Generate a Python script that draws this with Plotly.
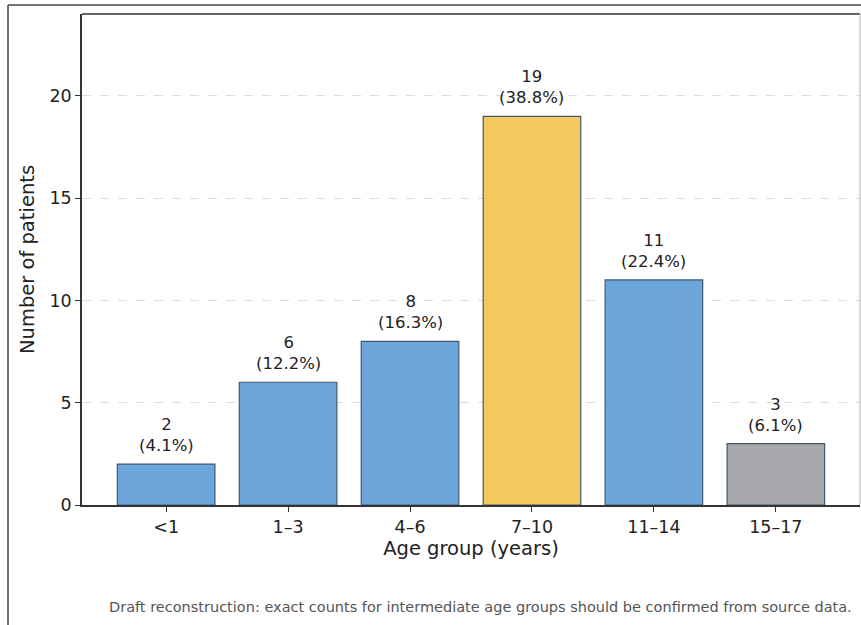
import plotly.graph_objects as go

categories = ["<1", "1–3", "4–6", "7–10", "11–14", "15–17"]
counts = [2, 6, 8, 19, 11, 3]
percents = [4.1, 12.2, 16.3, 38.8, 22.4, 6.1]
bar_colors = ["#6ca6db", "#6ca6db", "#6ca6db", "#f5c75f", "#6ca6db", "#a8a9ac"]
yticks = [0, 5, 10, 15, 20]
footnote = "Draft reconstruction: exact counts for intermediate age groups should be confirmed from source data."

FONT = "DejaVu Sans"
x_idx = list(range(len(categories)))

fig = go.Figure()
fig.add_trace(go.Bar(
    x=x_idx, y=counts, width=0.8,
    marker=dict(color=bar_colors, line=dict(color="#3f5870", width=1.2)),
    showlegend=False,
))

for i, (c, p) in enumerate(zip(counts, percents)):
    fig.add_annotation(x=i, y=c, xref="x", yref="y", text=f"{c}<br>({p}%)",
                       showarrow=False, yanchor="bottom", yshift=7,
                       font=dict(family=FONT, size=16.5, color="#222"))

fig.add_annotation(x=1.0, y=-0.208, xref="paper", yref="paper", text=footnote,
                   showarrow=False, xanchor="right", yanchor="middle", xshift=-6,
                   font=dict(family=FONT, size=14.5, color="#555"))

# spines and outer frame
dark = "#333333"
fig.add_shape(type="line", xref="paper", yref="paper", x0=0, x1=1, y0=1, y1=1, line=dict(color=dark, width=1.5))
fig.add_shape(type="line", xref="paper", yref="paper", x0=1, x1=1, y0=0, y1=1, line=dict(color="#bbbbbb", width=1.2))
fig.add_shape(type="line", xref="paper", yref="paper", x0=-0.0951, x1=1.01, y0=1.0183, y1=1.0183, line=dict(color="#444", width=1.5))
fig.add_shape(type="line", xref="paper", yref="paper", x0=-0.0951, x1=-0.0951, y0=-0.25, y1=1.0183, line=dict(color="#444", width=1.5))

fig.update_layout(
    width=861, height=625,
    margin=dict(l=82, r=1, t=14, b=120),
    paper_bgcolor="white", plot_bgcolor="white",
    font=dict(family=FONT, color="#222"),
    bargap=0.2,
    xaxis=dict(
        tickmode="array", tickvals=x_idx, ticktext=categories,
        range=[-0.69, 5.69],
        showline=True, linecolor=dark, linewidth=1.5,
        ticks="outside", ticklen=5, tickcolor=dark, tickwidth=1.2,
        tickfont=dict(family=FONT, size=17.5, color="#222"),
        title=dict(text="Age group (years)", font=dict(family=FONT, size=19.5, color="#222"), standoff=6),
        showgrid=False, zeroline=False,
    ),
    yaxis=dict(
        range=[0, 24], tickvals=yticks,
        showline=True, linecolor=dark, linewidth=1.5,
        ticks="outside", ticklen=5, tickcolor=dark, tickwidth=1.2,
        tickfont=dict(family=FONT, size=17.5, color="#222"),
        title=dict(text="Number of patients", font=dict(family=FONT, size=19.5, color="#222"), standoff=10),
        showgrid=True, gridcolor="#dddddd", griddash="dash", gridwidth=1,
        zeroline=False,
    ),
)

fig.write_html("out.html")
